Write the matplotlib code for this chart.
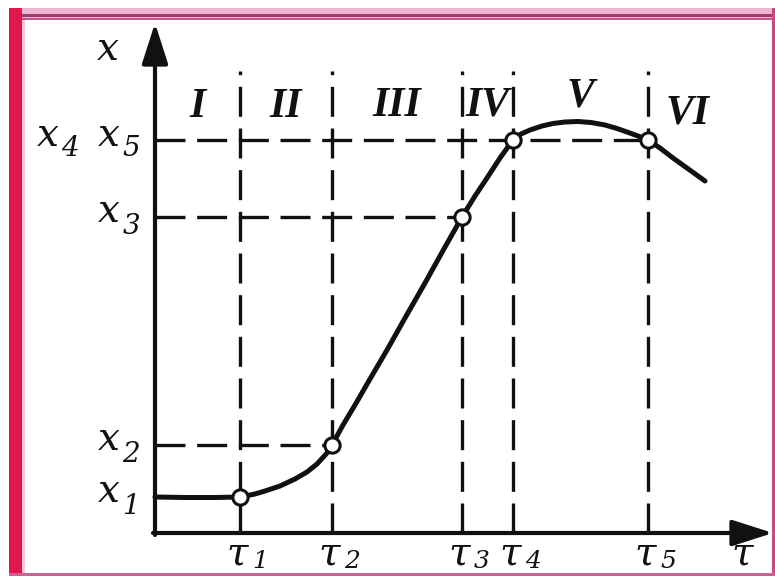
import matplotlib
matplotlib.use("Agg")
import matplotlib.pyplot as plt
from matplotlib.patches import Rectangle, ArrowStyle

# Characteristic points of the process curve
tau_marks = [0.85, 1.77, 3.07, 3.58, 4.93]           # tau1 .. tau5
x_levels = [0.36, 0.88, 3.16, 3.93, 3.93]            # x1 .. x5
tau_labels = ["1", "2", "3", "4", "5"]
x_labels = ["1", "2", "3", "4", "5"]
stage_names = ["I", "II", "III", "IV", "V", "VI"]

# Process curve x(tau)
curve_tau = [0.00, 0.30, 0.60, 0.85, 1.00, 1.10, 1.25, 1.40, 1.52, 1.62,
             1.72, 1.77, 1.88, 2.00, 2.15, 2.32, 2.50, 2.70, 2.90, 3.07,
             3.20, 3.32, 3.45, 3.58, 3.66, 3.75, 3.87, 3.98, 4.10, 4.23,
             4.36, 4.50, 4.62, 4.72, 4.83, 4.93, 5.05, 5.18, 5.34, 5.50]
curve_x = [0.36, 0.355, 0.355, 0.36, 0.39, 0.42, 0.47, 0.54, 0.61, 0.69,
           0.80, 0.88, 1.08, 1.28, 1.54, 1.83, 2.15, 2.50, 2.86, 3.16,
           3.37, 3.55, 3.75, 3.93, 3.99, 4.03, 4.07, 4.095, 4.11, 4.115,
           4.105, 4.08, 4.045, 4.01, 3.97, 3.93, 3.85, 3.75, 3.635, 3.52]

W, H = 775, 576
fig = plt.figure(figsize=(W / 100, H / 100), dpi=100)
fig.patch.set_facecolor("white")
ax = fig.add_axes([0, 0, 1, 1])
ax.set_xlim(-1.55, 6.20)
ax.set_ylim(-0.43, 5.33)
ax.axis("off")


def frame_rect(x0, y0, x1, y1, color):
    # rectangle given in pixels from the top-left corner of the figure
    fig.add_artist(Rectangle((x0 / W, 1 - y1 / H), (x1 - x0) / W, (y1 - y0) / H,
                             transform=fig.transFigure, color=color, lw=0, zorder=0))


# pink page frame
frame_rect(9, 8, 775, 20, "#eeb4d4")
frame_rect(9, 14, 775, 17, "#a03c6c")
frame_rect(9, 18, 775, 20, "#c55488")
frame_rect(9, 8, 22, 576, "#e3154d")
frame_rect(22, 20, 25, 576, "#f6c8d8")
frame_rect(772, 8, 775, 576, "#c84a80")
frame_rect(9, 573, 775, 576, "#d0608f")

ink = "#111111"
dash = (0, (9, 3.5))
top = 4.62

# dashed guide lines
for t in tau_marks:
    ax.plot([t, t], [0, top], color=ink, lw=2.4, ls=dash, zorder=2)
for i in (1, 2, 4):
    ax.plot([0, tau_marks[i]], [x_levels[i], x_levels[i]], color=ink, lw=2.4,
            ls=dash, zorder=2)

# axes with arrows
head = ArrowStyle("-|>", head_length=1.0, head_width=0.32)
ax.annotate("", xy=(0, 5.10), xytext=(0, -0.02),
            arrowprops=dict(arrowstyle=head, lw=3, color=ink, mutation_scale=25,
                            shrinkA=0, shrinkB=0), zorder=3)
ax.annotate("", xy=(6.18, 0), xytext=(-0.02, 0),
            arrowprops=dict(arrowstyle=head, lw=3, color=ink, mutation_scale=25,
                            shrinkA=0, shrinkB=0), zorder=3)

# curve and marked points
ax.plot(curve_tau, curve_x, color=ink, lw=3.6, solid_capstyle="round",
        solid_joinstyle="round", zorder=4)
ax.plot(tau_marks, x_levels, ls="none", marker="o", ms=11, mfc="white",
        mec=ink, mew=2.2, zorder=5)

letter = dict(family="DejaVu Serif", style="italic", size=28, color=ink,
              ha="center", va="center")
digit = dict(family="DejaVu Serif", style="italic", size=20, color=ink,
             ha="center", va="center")
roman = dict(family="Liberation Serif", style="italic", weight="bold", size=30,
             color=ink, ha="center", va="center")

# axis names
ax.text(-0.47, 4.83, "x", **letter)
ax.text(5.87, -0.21, "τ", **letter)

# tau labels under the axis
for t, s in zip(tau_marks, tau_labels):
    ax.text(t - 0.03, -0.21, "τ", **letter)
    ax.text(t + 0.20, -0.28, s, **dict(digit, size=18))

# x labels left of the axis (x4 shares the level of x5)
for i, s in enumerate(x_labels):
    lx = -1.07 if i == 3 else -0.46
    ax.text(lx, x_levels[i] + 0.05, "x", **letter)
    ax.text(lx + 0.22, x_levels[i] - 0.09, s, **digit)

# stage numerals between the boundaries
bounds = [0] + tau_marks
stage_tau = [(a + b) / 2 for a, b in zip(bounds[:-1], bounds[1:])] + [tau_marks[-1] + 0.40]
stage_x = [4.26, 4.26, 4.27, 4.28, 4.36, 4.20]
for t, y, s in zip(stage_tau, stage_x, stage_names):
    ax.text(t, y, s, **roman)

fig.savefig("out.png", dpi=100)
